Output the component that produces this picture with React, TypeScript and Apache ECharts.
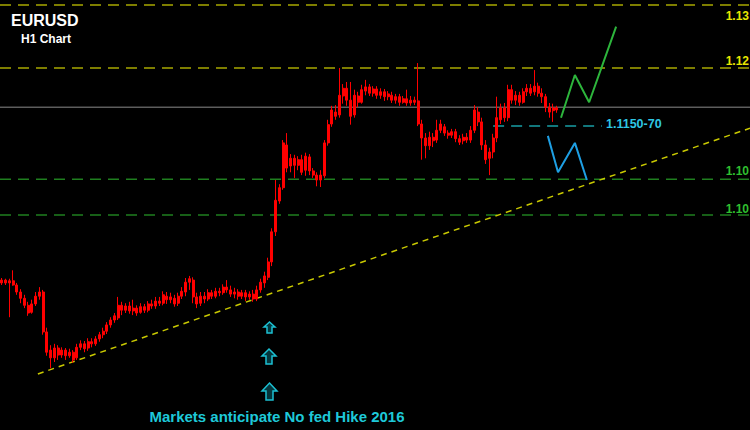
import React, { useEffect, useRef } from "react";
import * as echarts from "echarts";

// ---- data ----
const SLOTS = 200; // hourly slots across the chart, incl. empty future space

// [open, close, low, high]
const CANDLES: [number, number, number, number][] = [
  [1.0903, 1.0907, 1.0900, 1.0910], [1.0907, 1.0903, 1.0900, 1.0909], [1.0903, 1.0906, 1.0854, 1.0909], [1.0906, 1.0900, 1.0899, 1.0921],
  [1.0900, 1.0890, 1.0886, 1.0903], [1.0890, 1.0881, 1.0874, 1.0894], [1.0881, 1.0871, 1.0867, 1.0886], [1.0871, 1.0860, 1.0856, 1.0876],
  [1.0861, 1.0873, 1.0859, 1.0879], [1.0873, 1.0884, 1.0870, 1.0890], [1.0884, 1.0890, 1.0879, 1.0897], [1.0890, 1.0833, 1.0829, 1.0893],
  [1.0833, 1.0804, 1.0799, 1.0839], [1.0807, 1.0796, 1.0781, 1.0814], [1.0796, 1.0810, 1.0790, 1.0816], [1.0810, 1.0800, 1.0793, 1.0814],
  [1.0800, 1.0807, 1.0796, 1.0811], [1.0807, 1.0799, 1.0793, 1.0810], [1.0799, 1.0804, 1.0796, 1.0809], [1.0804, 1.0793, 1.0789, 1.0807],
  [1.0796, 1.0811, 1.0793, 1.0816], [1.0811, 1.0816, 1.0807, 1.0821], [1.0816, 1.0809, 1.0804, 1.0820], [1.0810, 1.0819, 1.0806, 1.0824],
  [1.0819, 1.0816, 1.0811, 1.0824], [1.0816, 1.0823, 1.0813, 1.0827], [1.0823, 1.0829, 1.0819, 1.0833], [1.0829, 1.0834, 1.0824, 1.0839],
  [1.0834, 1.0843, 1.0830, 1.0847], [1.0843, 1.0850, 1.0839, 1.0854], [1.0850, 1.0856, 1.0846, 1.0860], [1.0853, 1.0871, 1.0850, 1.0883],
  [1.0871, 1.0864, 1.0857, 1.0876], [1.0864, 1.0870, 1.0860, 1.0874], [1.0870, 1.0863, 1.0859, 1.0876], [1.0863, 1.0867, 1.0857, 1.0879],
  [1.0867, 1.0860, 1.0856, 1.0871], [1.0861, 1.0869, 1.0859, 1.0874], [1.0869, 1.0864, 1.0860, 1.0873], [1.0864, 1.0873, 1.0861, 1.0877],
  [1.0873, 1.0870, 1.0866, 1.0879], [1.0870, 1.0877, 1.0866, 1.0883], [1.0877, 1.0874, 1.0870, 1.0883], [1.0874, 1.0886, 1.0871, 1.0891],
  [1.0884, 1.0879, 1.0873, 1.0890], [1.0879, 1.0883, 1.0874, 1.0889], [1.0881, 1.0873, 1.0869, 1.0886], [1.0874, 1.0884, 1.0870, 1.0889],
  [1.0884, 1.0891, 1.0880, 1.0897], [1.0890, 1.0904, 1.0884, 1.0910], [1.0904, 1.0909, 1.0893, 1.0913], [1.0907, 1.0883, 1.0874, 1.0911],
  [1.0883, 1.0873, 1.0867, 1.0889], [1.0874, 1.0884, 1.0870, 1.0890], [1.0884, 1.0880, 1.0874, 1.0890], [1.0880, 1.0889, 1.0877, 1.0894],
  [1.0889, 1.0884, 1.0880, 1.0893], [1.0884, 1.0891, 1.0881, 1.0896], [1.0891, 1.0889, 1.0884, 1.0896], [1.0889, 1.0897, 1.0886, 1.0901],
  [1.0897, 1.0893, 1.0889, 1.0907], [1.0893, 1.0887, 1.0883, 1.0899], [1.0887, 1.0890, 1.0881, 1.0896], [1.0890, 1.0884, 1.0879, 1.0894],
  [1.0884, 1.0889, 1.0880, 1.0893], [1.0889, 1.0883, 1.0877, 1.0893], [1.0883, 1.0887, 1.0879, 1.0891], [1.0887, 1.0880, 1.0876, 1.0893],
  [1.0880, 1.0893, 1.0877, 1.0899], [1.0893, 1.0904, 1.0889, 1.0909], [1.0903, 1.0913, 1.0896, 1.0919], [1.0911, 1.0933, 1.0907, 1.0939],
  [1.0933, 1.0976, 1.0927, 1.0981], [1.0976, 1.1021, 1.0970, 1.1050], [1.1020, 1.1039, 1.1016, 1.1044], [1.1039, 1.1103, 1.1036, 1.1107],
  [1.1100, 1.1067, 1.1061, 1.1117], [1.1070, 1.1081, 1.1061, 1.1087], [1.1081, 1.1071, 1.1053, 1.1086], [1.1071, 1.1079, 1.1064, 1.1084],
  [1.1079, 1.1061, 1.1057, 1.1086], [1.1064, 1.1084, 1.1056, 1.1089], [1.1083, 1.1063, 1.1057, 1.1087], [1.1063, 1.1057, 1.1053, 1.1067],
  [1.1057, 1.1050, 1.1041, 1.1061], [1.1050, 1.1057, 1.1040, 1.1064], [1.1056, 1.1103, 1.1053, 1.1107], [1.1103, 1.1129, 1.1099, 1.1136],
  [1.1130, 1.1150, 1.1126, 1.1156], [1.1147, 1.1141, 1.1136, 1.1157], [1.1143, 1.1171, 1.1139, 1.1210], [1.1170, 1.1181, 1.1159, 1.1187],
  [1.1181, 1.1164, 1.1156, 1.1190], [1.1164, 1.1141, 1.1129, 1.1190], [1.1143, 1.1171, 1.1139, 1.1179], [1.1170, 1.1161, 1.1154, 1.1176],
  [1.1161, 1.1179, 1.1159, 1.1186], [1.1177, 1.1183, 1.1171, 1.1193], [1.1183, 1.1174, 1.1170, 1.1187], [1.1174, 1.1180, 1.1169, 1.1184],
  [1.1180, 1.1171, 1.1166, 1.1184], [1.1171, 1.1176, 1.1166, 1.1181], [1.1176, 1.1169, 1.1163, 1.1180], [1.1169, 1.1173, 1.1164, 1.1177],
  [1.1171, 1.1164, 1.1160, 1.1176], [1.1164, 1.1169, 1.1159, 1.1173], [1.1169, 1.1161, 1.1156, 1.1173], [1.1161, 1.1166, 1.1159, 1.1170],
  [1.1166, 1.1160, 1.1156, 1.1179], [1.1160, 1.1164, 1.1156, 1.1170], [1.1164, 1.1161, 1.1157, 1.1169], [1.1163, 1.1130, 1.1127, 1.1217],
  [1.1130, 1.1110, 1.1079, 1.1136], [1.1110, 1.1099, 1.1081, 1.1117], [1.1099, 1.1111, 1.1093, 1.1119], [1.1111, 1.1106, 1.1097, 1.1117],
  [1.1107, 1.1121, 1.1103, 1.1136], [1.1121, 1.1130, 1.1117, 1.1136], [1.1126, 1.1117, 1.1113, 1.1130], [1.1117, 1.1114, 1.1109, 1.1121],
  [1.1114, 1.1119, 1.1110, 1.1123], [1.1119, 1.1109, 1.1104, 1.1123], [1.1109, 1.1104, 1.1100, 1.1114], [1.1106, 1.1111, 1.1101, 1.1116],
  [1.1111, 1.1107, 1.1103, 1.1117], [1.1107, 1.1121, 1.1103, 1.1127], [1.1121, 1.1150, 1.1117, 1.1157], [1.1147, 1.1133, 1.1127, 1.1154],
  [1.1133, 1.1100, 1.1093, 1.1139], [1.1100, 1.1079, 1.1073, 1.1107], [1.1081, 1.1090, 1.1057, 1.1096], [1.1090, 1.1110, 1.1081, 1.1116],
  [1.1110, 1.1139, 1.1104, 1.1169], [1.1136, 1.1153, 1.1130, 1.1159], [1.1153, 1.1139, 1.1133, 1.1160], [1.1139, 1.1179, 1.1134, 1.1186],
  [1.1179, 1.1164, 1.1159, 1.1186], [1.1164, 1.1171, 1.1157, 1.1177], [1.1171, 1.1161, 1.1156, 1.1176], [1.1161, 1.1176, 1.1159, 1.1181],
  [1.1176, 1.1181, 1.1170, 1.1187], [1.1181, 1.1174, 1.1170, 1.1187], [1.1176, 1.1184, 1.1171, 1.1207], [1.1184, 1.1174, 1.1169, 1.1189],
  [1.1174, 1.1169, 1.1160, 1.1181], [1.1169, 1.1154, 1.1147, 1.1173], [1.1154, 1.1147, 1.1139, 1.1160], [1.1149, 1.1153, 1.1133, 1.1159],
  [1.1153, 1.1150, 1.1146, 1.1156],
];

const YELLOW_LEVELS = [1.13, 1.121];
const GREEN_LEVELS = [1.1051, 1.1];
const CURRENT_PRICE = 1.1154;
const ZONE_PRICE = 1.1127;
const ZONE_SPAN = [131.5, 160.5]; // slot positions
const ZONE_LABEL = "1.1150-70";
const LEVEL_LABELS = ["1.13", "1.12", "1.10", "1.10"];
const TREND_LINE: [number, number][] = [[10.1, 1.0773], [200, 1.1124]];
const BULL_PATH: [number, number][] = [[149.6, 1.1139], [153.3, 1.12], [157.1, 1.1161], [164.3, 1.1269]];
const BEAR_PATH: [number, number][] = [[146.1, 1.1113], [148.8, 1.1061], [153.3, 1.1103], [156.5, 1.105]];
const Y_MIN = 1.06929;
const Y_MAX = 1.13071;
const TITLE = "EURUSD";
const SUBTITLE = "H1 Chart";
const CAPTION = "Markets anticipate No fed Hike 2016";

const FONT = '"Liberation Sans", Arial, sans-serif';

function arrow(x0: number, x1: number, y0: number, y1: number, headH: number, halfShaft: number) {
  const cx = (x0 + x1) / 2;
  const yh = y0 + headH;
  return {
    type: "polygon",
    shape: {
      points: [
        [cx, y0], [x1, yh], [cx + halfShaft, yh], [cx + halfShaft, y1],
        [cx - halfShaft, y1], [cx - halfShaft, yh], [x0, yh],
      ],
    },
    style: { fill: "#05363c", stroke: "#1cc0d2", lineWidth: 1.5 },
    z: 10,
  };
}

function hLine(price: number, color: string, width: number, dash: any, from = 0, to = SLOTS) {
  return {
    type: "line",
    xAxisIndex: 1,
    yAxisIndex: 0,
    data: [[from, price], [to, price]],
    symbol: "none",
    silent: true,
    z: 1,
    lineStyle: { color, width, type: dash },
  };
}

export default function App() {
  const ref = useRef<HTMLDivElement>(null);
  useEffect(() => {
    document.body.style.margin = "0";
    document.body.style.background = "#000";
    const chart = echarts.init(ref.current!, null, { renderer: "svg" });
    const cats = Array.from({ length: SLOTS }, (_, i) => String(i));
    const labelY = [16, 61, 171, 209];
    const labelColors = ["#e6e600", "#e6e600", "#2fbf2f", "#2fbf2f"];
    chart.setOption({
      animation: false,
      backgroundColor: "#000000",
      grid: { left: 0, right: 0, top: 0, bottom: 0 },
      xAxis: [
        { type: "category", data: cats, show: false, boundaryGap: true },
        { type: "value", min: 0, max: SLOTS, show: false },
      ],
      yAxis: { type: "value", min: Y_MIN, max: Y_MAX, show: false, scale: true },
      series: [
        ...YELLOW_LEVELS.map((p) => hLine(p, "#a8a800", 1.5, [11, 7])),
        ...GREEN_LEVELS.map((p) => hLine(p, "#1f7f1f", 1.5, [11, 7])),
        hLine(CURRENT_PRICE, "#8a8a8a", 1, "solid"),
        hLine(ZONE_PRICE, "#12777c", 2, [11, 7], ZONE_SPAN[0], ZONE_SPAN[1]),
        {
          type: "line",
          xAxisIndex: 1,
          data: TREND_LINE,
          symbol: "none",
          silent: true,
          z: 2,
          lineStyle: { color: "#c8c800", width: 1.5, type: [6, 5] },
        },
        {
          type: "candlestick",
          xAxisIndex: 0,
          data: CANDLES,
          barWidth: 2.6,
          z: 3,
          itemStyle: {
            color: "#ff0000",
            color0: "#ff0000",
            borderColor: "#ff0000",
            borderColor0: "#ff0000",
            borderWidth: 1,
          },
        },
        {
          type: "line",
          xAxisIndex: 1,
          data: BULL_PATH,
          symbol: "none",
          z: 4,
          lineStyle: { color: "#2db53c", width: 2 },
        },
        {
          type: "line",
          xAxisIndex: 1,
          data: BEAR_PATH,
          symbol: "none",
          z: 4,
          lineStyle: { color: "#1e9fe3", width: 2 },
        },
      ],
      graphic: [
        { type: "text", x: 11, y: 20, style: { text: TITLE, fill: "#ffffff", font: `bold 16px ${FONT}`, textVerticalAlign: "middle", verticalAlign: "middle" } },
        { type: "text", x: 21, y: 39, style: { text: SUBTITLE, fill: "#ffffff", font: `bold 12px ${FONT}`, textVerticalAlign: "middle", verticalAlign: "middle" } },
        ...LEVEL_LABELS.map((t, i) => ({
          type: "text",
          x: 749,
          y: labelY[i],
          style: { text: t, fill: labelColors[i], font: `bold 12px ${FONT}`, textAlign: "right", align: "right", textVerticalAlign: "middle", verticalAlign: "middle" },
        })),
        { type: "text", x: 606, y: 124, style: { text: ZONE_LABEL, fill: "#2ec6e3", font: `bold 12.5px ${FONT}`, textVerticalAlign: "middle", verticalAlign: "middle" } },
        arrow(264, 275, 322, 333, 5, 2.5),
        arrow(262, 276, 349, 364, 7, 3),
        arrow(262, 277, 383, 400, 8, 3.5),
        { type: "text", x: 277, y: 416, style: { text: CAPTION, fill: "#1ec8d8", font: `bold 15px ${FONT}`, textAlign: "center", align: "center", textVerticalAlign: "middle", verticalAlign: "middle" } },
      ],
    });
    return () => chart.dispose();
  }, []);
  return <div ref={ref} style={{ width: 750, height: 430 }} />;
}
